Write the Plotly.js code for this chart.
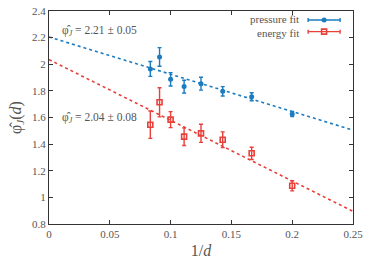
<!DOCTYPE html>
<html><head><meta charset="utf-8">
<script src="https://cdn.plot.ly/plotly-3.0.1.min.js"></script>
<style>body{margin:0;background:#fff}#c{width:374px;height:262px}</style>
</head><body><div id="c"></div>
<script>
var invD = [1/12, 1/11, 1/10, 1/9, 1/8, 1/7, 1/6, 1/5];
var pressureVals = [1.965, 2.055, 1.887, 1.832, 1.854, 1.797, 1.756, 1.626];
var pressureErr  = [0.056, 0.070, 0.050, 0.048, 0.048, 0.035, 0.030, 0.019];
var energyVals   = [1.546, 1.714, 1.584, 1.456, 1.481, 1.433, 1.331, 1.087];
var energyErr    = [0.103, 0.109, 0.060, 0.066, 0.068, 0.059, 0.046, 0.038];
var fitX         = [0, 0.25];
var pressureFitY = [2.205, 1.505];
var energyFitY   = [2.035, 0.895];
var xTicks = [0, 0.05, 0.1, 0.15, 0.2, 0.25];
var xTickText = ['0', '0.05', '0.1', '0.15', '0.2', '0.25'];
var yTicks = [0.8, 1, 1.2, 1.4, 1.6, 1.8, 2, 2.2, 2.4];
var yTickText = ['0.8', '1', '1.2', '1.4', '1.6', '1.8', '2', '2.2', '2.4'];
var seriesNames = ['pressure fit', 'energy fit'];
var fitLabels = ['φ̂<sub><i>J</i></sub> = 2.21 ± 0.05', 'φ̂<sub><i>J</i></sub> = 2.04 ± 0.08'];

var BLUE = '#1c7cc0', RED = '#e8403a';
var FONT = 'Liberation Serif';
var TXT = '#555';

var traces = [
  {x: fitX, y: pressureFitY, mode: 'lines', line: {color: BLUE, width: 1.6, dash: 'dot'}, showlegend: false, hoverinfo: 'skip'},
  {x: fitX, y: energyFitY, mode: 'lines', line: {color: RED, width: 1.6, dash: 'dot'}, showlegend: false, hoverinfo: 'skip'},
  {x: invD, y: pressureVals, mode: 'markers', name: seriesNames[0],
   marker: {symbol: 'circle', size: 5, color: BLUE},
   error_y: {type: 'data', array: pressureErr, visible: true, color: BLUE, thickness: 1.4, width: 2},
   showlegend: false},
  {x: invD, y: energyVals, mode: 'markers', name: seriesNames[1],
   marker: {symbol: 'square-open', size: 5, color: RED, line: {width: 1.6, color: RED}},
   error_y: {type: 'data', array: energyErr, visible: true, color: RED, thickness: 1.4, width: 2},
   showlegend: false},
  {x: [0.905], y: [0.958], xaxis: 'x2', yaxis: 'y2', mode: 'markers',
   marker: {symbol: 'circle', size: 5, color: BLUE},
   error_x: {type: 'data', array: [0.0526], visible: true, color: BLUE, thickness: 1.4, width: 2},
   showlegend: false, hoverinfo: 'skip'},
  {x: [0.905], y: [0.903], xaxis: 'x2', yaxis: 'y2', mode: 'markers',
   marker: {symbol: 'square-open', size: 5, color: RED, line: {width: 1.6, color: RED}},
   error_x: {type: 'data', array: [0.0526], visible: true, color: RED, thickness: 1.4, width: 2},
   showlegend: false, hoverinfo: 'skip'}
];

var axCommon = {
  showgrid: false, zeroline: false, showline: true, mirror: 'ticks',
  linecolor: '#333', linewidth: 1, ticks: 'inside', ticklen: 4, tickcolor: '#333',
  tickfont: {family: FONT, size: 11, color: TXT}
};

var layout = {
  width: 374, height: 262,
  margin: {l: 49, r: 21, t: 11, b: 38},
  paper_bgcolor: '#fff', plot_bgcolor: '#fff',
  showlegend: false,
  font: {family: FONT, color: TXT},
  xaxis: Object.assign({}, axCommon, {
    range: [0, 0.25], tickvals: xTicks, ticktext: xTickText,
    title: {text: '1/<i>d</i>', font: {family: FONT, size: 16, color: TXT}, standoff: 5}
  }),
  yaxis: Object.assign({}, axCommon, {
    range: [0.8, 2.4], tickvals: yTicks, ticktext: yTickText,
    title: {text: 'φ̂<sub><i>J</i></sub>(<i>d</i>)', font: {family: FONT, size: 16, color: TXT}, standoff: 6}
  }),
  xaxis2: {overlaying: 'x', range: [0, 1], visible: false, fixedrange: true},
  yaxis2: {overlaying: 'y', range: [0, 1], visible: false, fixedrange: true},
  annotations: [
    {xref: 'paper', yref: 'paper', x: 0.829, y: 0.962, xanchor: 'right', yanchor: 'middle', showarrow: false,
     text: seriesNames[0], font: {family: FONT, size: 11, color: TXT}},
    {xref: 'paper', yref: 'paper', x: 0.829, y: 0.899, xanchor: 'right', yanchor: 'middle', showarrow: false,
     text: seriesNames[1], font: {family: FONT, size: 11, color: TXT}},
    {xref: 'paper', yref: 'paper', x: 0.035, y: 0.905, xanchor: 'left', yanchor: 'middle', showarrow: false,
     text: fitLabels[0], font: {family: FONT, size: 11.5, color: TXT}},
    {xref: 'paper', yref: 'paper', x: 0.035, y: 0.5, xanchor: 'left', yanchor: 'middle', showarrow: false,
     text: fitLabels[1], font: {family: FONT, size: 11.5, color: TXT}}
  ]
};

Plotly.newPlot('c', traces, layout, {staticPlot: true, displayModeBar: false});
</script></body></html>
